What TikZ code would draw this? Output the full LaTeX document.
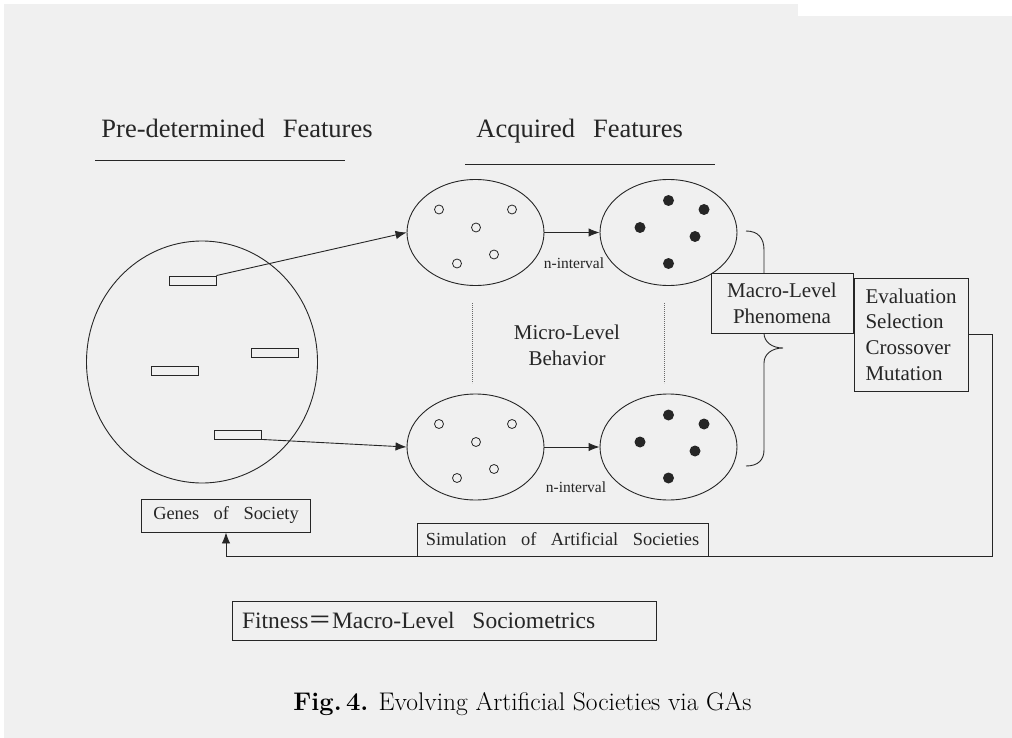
\documentclass[tikz,border=0pt]{standalone}
\usepackage{fontspec}
\usetikzlibrary{shapes.geometric,arrows.meta}
\newfontfamily\tnr{Liberation Serif}
\newfontfamily\cjk{Noto Sans CJK SC}
\definecolor{bg}{HTML}{F0F0F0}
\definecolor{ink}{HTML}{262626}
\begin{document}
\begin{tikzpicture}[x=1pt,y=-1pt,line width=0.9pt,
  every node/.style={text=ink},
  pop/.style={shape=ellipse,draw=ink,inner sep=0pt,minimum width=137pt,minimum height=106pt},
  gene/.style={draw=ink,fill=bg,inner sep=0pt,minimum width=47pt,minimum height=9pt},
  agent/.style={shape=circle,draw=ink,fill=bg,inner sep=0pt,minimum size=9pt,line width=0.8pt},
  agent on/.style={shape=circle,fill=ink,inner sep=0pt,minimum size=11pt},
  box/.style={draw=ink,fill=bg,inner sep=0pt},
  big/.style={font=\tnr\fontsize{26.5}{30}\selectfont},
  mid/.style={font=\tnr\fontsize{21}{25.7}\selectfont},
  small/.style={font=\tnr\fontsize{18.4}{22}\selectfont},
  arr/.style={draw=ink,-{Latex[length=11pt,width=8.5pt]}}]
 \fill[white] (0,0) rectangle (1012,738);
 \fill[bg] (4,4) rectangle (1012,738);
 \fill[white] (798,0) rectangle (1012,16);
 \useasboundingbox (0,0) rectangle (1012,738);
 % headings
 \node (pre head) at (101,138) [big,anchor=base west,inner sep=0pt] {Pre-determined\hspace{18pt}Features};
 \node (acq head) at (476,138) [big,anchor=base west,inner sep=0pt] {Acquired\hspace{18pt}Features};
 \draw[ink] (95,160) -- (345,160);
 \draw[ink] (465,164) -- (715,164);
 % society and its genes
 \node (society) at (202,362) [shape=ellipse,draw=ink,inner sep=0pt,minimum width=231pt,minimum height=242pt] {};
 \node (gene 1) at (192.5,280.5) [gene] {};
 \node (gene 2) at (274.5,353) [gene] {};
 \node (gene 3) at (174.5,370.5) [gene] {};
 \node (gene 4) at (238,434.5) [gene] {};
 % populations
 \node (cell 1) at (475.5,232.5) [pop] {};
 \node (cell 2) at (668.5,232.5) [pop] {};
 \node (cell 3) at (475.5,447) [pop] {};
 \node (cell 4) at (668.5,447) [pop] {};
 \foreach \c in {1,3}
  \foreach \dx/\dy [count=\i] in {-36.5/-23,36.5/-23,0.5/-5,18.5/22,-18.5/31}
   \node (agent \c-\i) at ([shift={(\dx,\dy)}]cell \c) [agent] {};
 \foreach \c in {2,4}
  \foreach \dx/\dy [count=\i] in {0/-32,35.5/-23,-28.5/-5,26.5/4,0/31}
   \node (agent \c-\i) at ([shift={(\dx,\dy)}]cell \c) [agent on] {};
 \draw[arr] (gene 1.north east) -- (cell 1.west);
 \draw[arr] (gene 4.south east) -- (cell 3.west);
 \draw[arr] (cell 1.east) -- (cell 2.west);
 \draw[arr] (cell 3.east) -- (cell 4.west);
 \node (step 1) at (574,263) [font=\tnr\fontsize{15.5}{18}\selectfont] {n-interval};
 \node (step 2) at (576,487) [font=\tnr\fontsize{15.5}{18}\selectfont] {n-interval};
 \draw[ink!70,line width=0.6pt,dash pattern=on 0.8pt off 1.2pt] (472,303) -- (472,383);
 \draw[ink!70,line width=0.6pt,dash pattern=on 0.8pt off 1.2pt] (664,303) -- (664,383);
 \node (micro) at (567,345) [mid,align=center] {Micro-Level\\Behavior};
 % brace and GA boxes
 \draw[ink] (746,231) .. controls (758,231) and (764,238) .. (764,250) -- (764,333)
   .. controls (764,342) and (772,348) .. (783,348)
   .. controls (772,348) and (764,354) .. (764,363) -- (764,450)
   .. controls (764,460) and (758,466) .. (746,466);
 \node (macro) at (782,303) [box,mid,minimum width=142pt,minimum height=60pt,align=center] {Macro-Level\\Phenomena};
 \node (ga) at (911,334.5) [box,mid,minimum width=114pt,minimum height=113pt,align=left] {Evaluation\\Selection\\Crossover\\Mutation};
 \node (genes) at (226,515.5) [box,small,minimum width=169pt,minimum height=33pt] {Genes\hspace{14.5pt}of\hspace{14.5pt}Society};
 \node (sim) at (562.5,539.5) [box,small,minimum width=291pt,minimum height=33pt] {Simulation\hspace{14.5pt}of\hspace{14.5pt}Artificial\hspace{14.5pt}Societies};
 \coordinate (back) at (992,556);
 \draw[arr] (ga.east) -| (back) -| (genes.south);
 \node (fitness) at (444,620.5) [box,minimum width=424pt,minimum height=39pt,text width=404pt,align=left,font=\tnr\fontsize{23.5}{28}\selectfont] {Fitness{\cjk ＝}Macro-Level\hspace{17.7pt}Sociometrics};
 % caption
 \node (caption) at (293,710) [anchor=base west,inner sep=0pt,text=black,font=\fontsize{25.5}{30}\selectfont] {\textbf{Fig.\,4.} Evolving Artificial Societies via GAs};
\end{tikzpicture}
\end{document}
